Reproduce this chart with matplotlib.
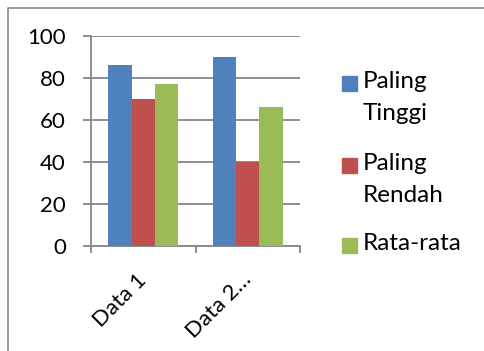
import matplotlib.pyplot as plt
import numpy as np
from matplotlib.lines import Line2D
from matplotlib.patches import Rectangle

plt.rcParams["font.family"] = ["Lato", "DejaVu Sans"]

categories = ["Data 1", "Data 2…"]
series_names = ["Paling\nTinggi", "Paling\nRendah", "Rata-rata"]
paling_tinggi = [86, 90]
paling_rendah = [70, 40]
rata_rata = [77, 66]
yticks = [0, 20, 40, 60, 80, 100]

colors = ["#4F81BD", "#C0504D", "#9BBB59"]
grid_grey = "#868686"

fig = plt.figure(figsize=(4.85, 3.51), dpi=100)
ax = fig.add_axes([91 / 485, 1 - 246 / 351, 209 / 485, 210 / 351])

x = np.arange(len(categories))
bar_w = 1 / 4.5
values = [paling_tinggi, paling_rendah, rata_rata]
for i, (vals, c) in enumerate(zip(values, colors)):
    ax.bar(x + (i - 1) * bar_w, vals, width=bar_w, color=c, zorder=3)

ax.set_xlim(-0.5, len(categories) - 0.5)
ax.set_ylim(0, 100)
ax.set_yticks(yticks)
ax.yaxis.grid(True, color=grid_grey, linewidth=1.3, zorder=0)
ax.tick_params(axis="y", length=6, width=1.3, color=grid_grey,
               labelsize=16, pad=12)

# category ticks sit on the boundaries between groups
ax.set_xticks(np.arange(-0.5, len(categories)), minor=False)
ax.set_xticklabels([])
ax.tick_params(axis="x", length=5, width=1.3, color=grid_grey)
for xi, lab in zip(x, categories):
    ax.annotate(lab, xy=(xi, 0), xycoords=("data", "axes fraction"),
                xytext=(-5, -17), textcoords="offset points",
                rotation=45, ha="right", va="top", rotation_mode="anchor",
                fontsize=16)

for s in ["top", "right"]:
    ax.spines[s].set_visible(False)
for s in ["left", "bottom"]:
    ax.spines[s].set_color(grid_grey)
    ax.spines[s].set_linewidth(1.3)

# legend drawn by hand: square beside the first line of each label
W, H = 485, 351
entry_tops = [75, 157, 237]
for name, c, top in zip(series_names, colors, entry_tops):
    fig.add_artist(Rectangle((342 / W, 1 - (top + 16) / H), 15 / W, 15 / H,
                             transform=fig.transFigure, color=c))
    fig.text(363 / W, 1 - (top - 4) / H, name, fontsize=17.5, va="top",
             ha="left", linespacing=1.65)

# outer chart border (top and left edges)
fig.add_artist(Line2D([8.5 / W, 8.5 / W, 1], [0, 1 - 7.5 / H, 1 - 7.5 / H],
                      transform=fig.transFigure, color="#8c8c8c",
                      linewidth=1.2))

fig.savefig("out.png", dpi=100)
